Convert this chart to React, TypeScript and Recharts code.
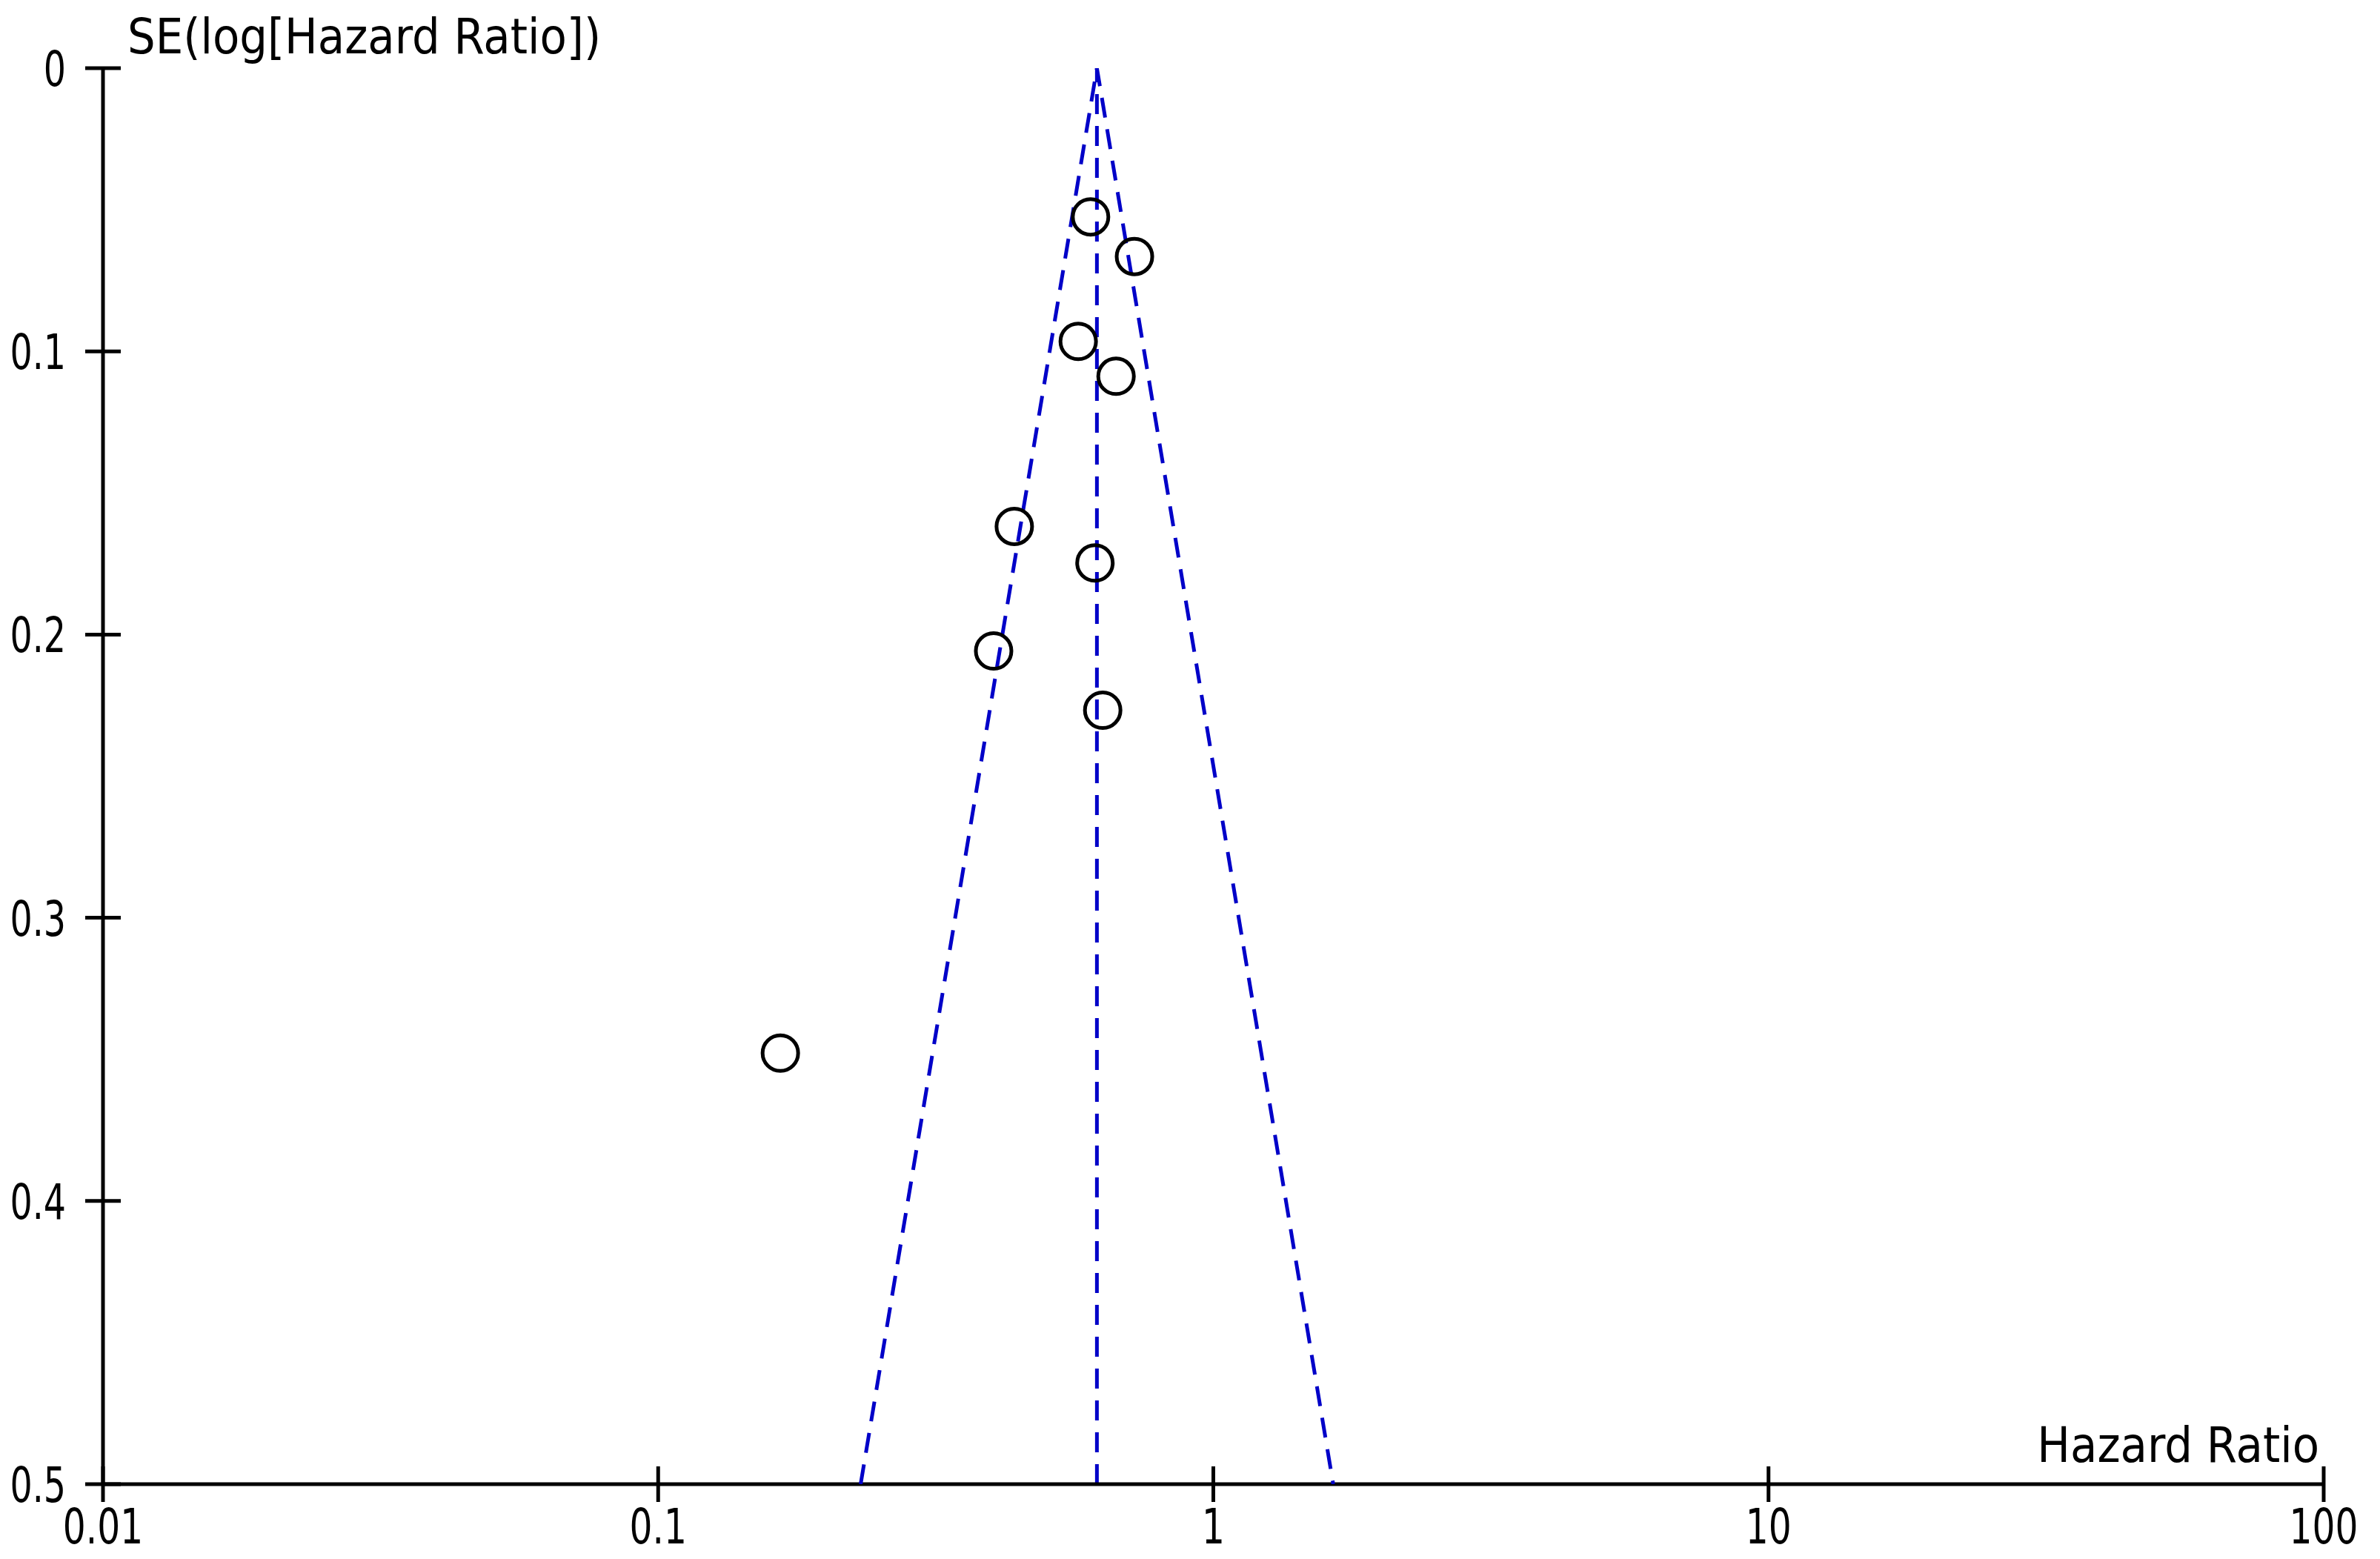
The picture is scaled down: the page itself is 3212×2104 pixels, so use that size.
import React from 'react';
import { ScatterChart, Scatter, XAxis, YAxis, ReferenceLine } from 'recharts';

// studies: hazard ratio vs SE(log HR)
const studyHR = [0.601, 0.721, 0.571, 0.668, 0.438, 0.612, 0.402, 0.632, 0.166];
const studySE = [0.0525, 0.0665, 0.0965, 0.1088, 0.1618, 0.1747, 0.2058, 0.2267, 0.3478];

// pooled estimate and 95% funnel limits at SE = 0.5
const pooledHR = 0.617;
const funnelHR = [0.2316, 0.617, 1.644];
const funnelSE = [0.5, 0, 0.5];

const xTicks = [0.01, 0.1, 1, 10, 100];
const yTicks = [0, 0.1, 0.2, 0.3, 0.4, 0.5];

const studies = studyHR.map((hr, i) => ({ hr, se: studySE[i] }));
const funnel = funnelHR.map((hr, i) => ({ hr, se: funnelSE[i] }));

const FONT = '"Liberation Sans Narrow", "DejaVu Sans Condensed", "Liberation Sans", sans-serif';
const BLUE = '#0000C8';

// digits in the original are narrow, squeeze them a bit
const XTick = (props: any) => {
  const { x, y, payload } = props;
  return (
    <g>
      <line x1={x} x2={x} y1={y - 24} y2={y + 24} stroke="#000" strokeWidth={5} />
      <text
        transform={`translate(${x},${y + 80}) scale(0.82,1)`}
        textAnchor="middle"
        fontFamily={FONT}
        fontSize={66}
        fill="#000"
      >
        {String(payload.value)}
      </text>
    </g>
  );
};

const YTick = (props: any) => {
  const { x, y, payload } = props;
  return (
    <g>
      <line x1={x - 24} x2={x + 24} y1={y} y2={y} stroke="#000" strokeWidth={5} />
      <text
        transform={`translate(${x - 50},${y + 24}) scale(0.8,1)`}
        textAnchor="end"
        fontFamily={FONT}
        fontSize={66}
        fill="#000"
      >
        {String(payload.value)}
      </text>
    </g>
  );
};

const Ring = (props: any) => (
  <circle cx={props.cx} cy={props.cy} r={24} fill="none" stroke="#000" strokeWidth={5} />
);

export default function App() {
  return (
    <div style={{ position: 'absolute', left: 0, top: 0, width: 3212, height: 2104, background: '#fff' }}>
      <ScatterChart width={3212} height={2104} margin={{ top: 92, right: 76, bottom: 0, left: 0 }}>
        <XAxis
          type="number"
          dataKey="hr"
          scale="log"
          domain={[0.01, 100]}
          ticks={xTicks}
          allowDataOverflow
          height={101}
          tickSize={0}
          tickMargin={0}
          tickLine={false}
          axisLine={{ stroke: '#000', strokeWidth: 5 }}
          tick={<XTick />}
          interval={0}
          label={{
            content: () => (
              <text x={3130} y={1973} textAnchor="end" fontFamily={FONT} fontSize={66} fill="#000">
                Hazard Ratio
              </text>
            ),
          }}
        />
        <YAxis
          type="number"
          dataKey="se"
          reversed
          domain={[0, 0.5]}
          ticks={yTicks}
          allowDataOverflow
          width={139}
          tickSize={0}
          tickMargin={0}
          tickLine={false}
          axisLine={{ stroke: '#000', strokeWidth: 5 }}
          tick={<YTick />}
          interval={0}
          label={{
            content: () => (
              <text x={172} y={72} fontFamily={FONT} fontSize={66} fill="#000">
                SE(log[Hazard Ratio])
              </text>
            ),
          }}
        />
        <ReferenceLine x={pooledHR} stroke={BLUE} strokeWidth={5} strokeDasharray="27 16" />
        <Scatter
          data={funnel}
          line={{ stroke: BLUE, strokeWidth: 5, strokeDasharray: '27 16' }}
          shape={() => null}
          isAnimationActive={false}
        />
        <Scatter data={studies} shape={<Ring />} isAnimationActive={false} />
      </ScatterChart>
    </div>
  );
}
